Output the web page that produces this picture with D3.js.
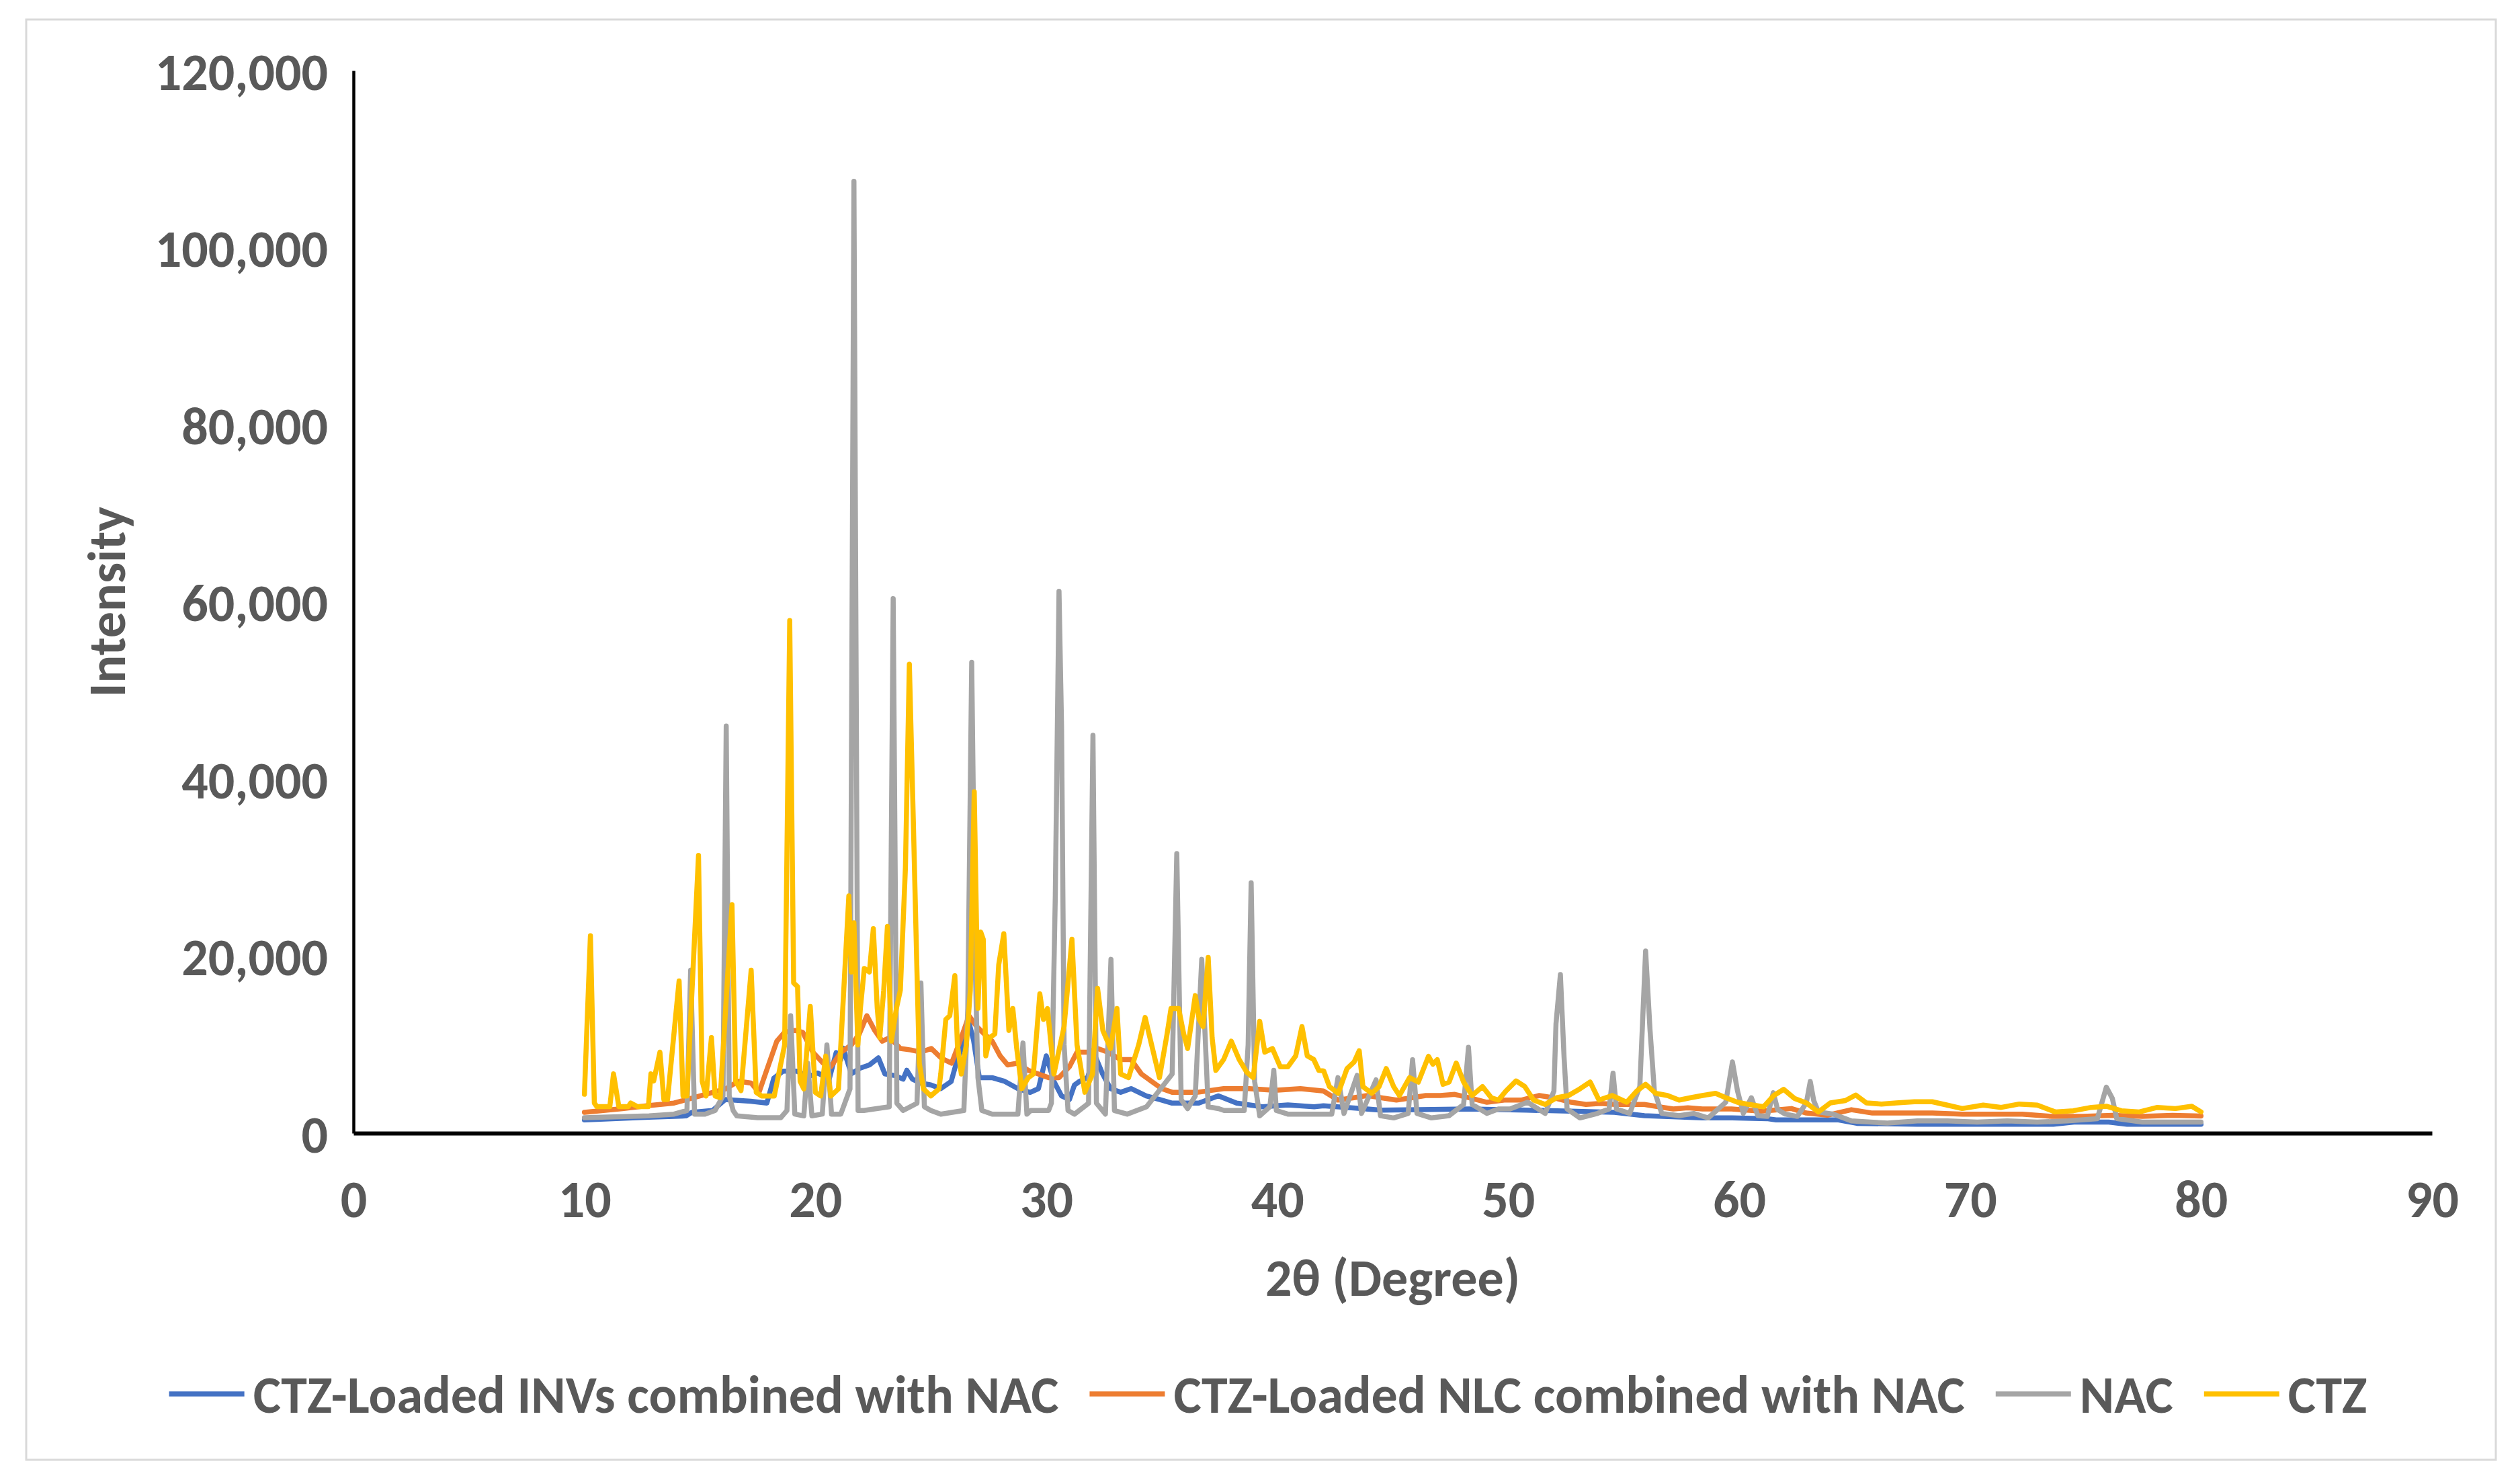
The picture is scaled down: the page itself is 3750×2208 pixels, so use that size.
<!DOCTYPE html>
<html>
<head>
<meta charset="utf-8">
<script src="https://cdn.jsdelivr.net/npm/d3@7"></script>
<style>
  html, body { margin: 0; padding: 0; background: #fff; }
  text { font-family: Carlito, Lato, "Open Sans", sans-serif; font-weight: bold; fill: #595959; }
</style>
</head>
<body>
<svg id="chart" width="3750" height="2208"></svg>
<script>
// series values: [2θ, intensity]
const invsNac = [
  [10.0,1500],[12.8,1800],[14.4,1950],[14.66,2360],[15.55,2560],[16.1,3800],[17.2,3600],[17.9,3400],
  [18.2,6200],[18.6,7000],[19.2,7000],[19.7,6400],[20.1,6800],[20.6,6100],[20.9,9100],[21.1,8300],
  [21.2,9600],[21.56,6700],[21.9,7300],[22.34,7700],[22.73,8500],[23.01,6700],[23.45,6500],[23.8,6100],
  [23.96,7100],[24.2,6100],[24.57,5650],[25.0,5450],[25.43,5030],[25.88,5830],[26.1,7900],[26.45,10500],
  [26.65,12500],[26.85,10500],[27.1,6270],[27.65,6270],[28.2,5850],[28.77,5030],[29.3,4600],[29.66,5030],
  [30.0,8730],[30.33,5850],[30.66,4210],[31.0,3800],[31.22,5440],[31.44,5850],[31.78,6270],[32.11,8730],
  [32.44,6680],[32.78,5030],[33.22,4620],[33.67,5030],[34.33,4210],[34.9,3800],[35.45,3390],[36.6,3390],
  [37.45,4210],[38.24,3390],[39.35,2980],[40.46,3180],[41.6,2980],[42.0,3100],[43.3,2850],[44.5,2600],
  [48.3,2730],[50.8,2600],[52.7,2480],[54.6,2350],[55.9,1970],[57.1,1850],[58.4,1720],[59.7,1720],
  [61.2,1640],[61.6,1500],[63.2,1500],[64.3,1500],[65.1,1110],[67.7,1000],[70.3,1000],[73.6,1000],
  [74.5,1250],[76.0,1250],[76.8,1000],[80.0,1000]
];

const nlcNac = [
  [10.0,2360],[11.65,2770],[12.77,3110],[13.88,3400],[15.0,4200],[16.11,5000],[16.67,5860],[17.22,5650],
  [17.56,4600],[17.89,7100],[18.33,10380],[18.67,11400],[19.11,11600],[19.45,11400],[19.89,9150],[20.34,7900],
  [20.67,7500],[21.12,9150],[21.56,9970],[21.9,11200],[22.23,13260],[22.57,11600],[22.9,10380],[23.23,10800],
  [23.68,9560],[24.12,9400],[24.57,9150],[25.02,9560],[25.46,8460],[25.9,7900],[26.32,10790],[26.65,13260],
  [26.99,12030],[27.32,11200],[27.66,10380],[28.0,8730],[28.33,7700],[28.77,7910],[29.22,7090],[29.66,6680],
  [30.1,6270],[30.55,6270],[31.0,7500],[31.33,9150],[31.78,9150],[32.22,9560],[32.67,9150],[33.22,8320],
  [33.67,8320],[34.12,6680],[34.56,5850],[35.0,5030],[35.45,4620],[36.56,4620],[37.68,5030],[38.79,5030],
  [39.9,4830],[41.0,5030],[42.0,4760],[42.63,3740],[43.27,3990],[43.9,4250],[44.53,3990],[45.16,3740],
  [45.8,3990],[46.43,4250],[47.06,4250],[47.69,4380],[48.32,3990],[49.08,3490],[49.83,3740],[50.59,3740],
  [51.35,4250],[51.98,3990],[52.73,3490],[53.37,3240],[54.0,3360],[54.63,3240],[55.26,3240],[55.89,3240],
  [56.52,2980],[57.15,2730],[57.78,2860],[58.41,2730],[59.67,2730],[60.94,2480],[61.5,2600],[62.26,2780],
  [62.91,2270],[63.82,2020],[64.86,2650],[65.77,2270],[67.07,2270],[68.37,2270],[69.67,2150],[70.97,2150],
  [72.26,2150],[73.56,1890],[74.86,1890],[76.16,2020],[77.46,1890],[78.76,2020],[80.0,1940]
];

const nac = [
  [10.0,1740],[12.8,1950],[13.88,2150],[14.44,2560],[14.6,18400],[14.77,2150],[15.22,2150],[15.66,2560],
  [16.0,4210],[16.14,45970],[16.27,4210],[16.44,2560],[16.6,1950],[17.5,1740],[18.5,1740],[18.77,2560],
  [18.93,13260],[19.11,2150],[19.5,1950],[19.67,7900],[19.85,1950],[20.3,2150],[20.5,9970],[20.7,2150],
  [21.1,2150],[21.5,5000],[21.67,107500],[21.85,2560],[22.1,2560],[23.2,2980],[23.37,60370],[23.53,3380],
  [23.8,2560],[24.4,3380],[24.57,16960],[24.72,2980],[25.0,2560],[25.43,2150],[26.43,2560],[26.6,14080],
  [26.77,53170],[26.93,18200],[27.04,6270],[27.21,2560],[27.66,2150],[28.77,2150],[28.99,10180],[29.16,2150],
  [29.33,2560],[30.1,2560],[30.22,3380],[30.39,26840],[30.55,61190],[30.66,45970],[30.77,9970],[30.94,2560],
  [31.22,2150],[31.83,3380],[32.02,44940],[32.17,3380],[32.56,2150],[32.8,19630],[32.95,2560],[33.5,2150],
  [34.34,2980],[35.45,6680],[35.65,31570],[35.84,3790],[36.12,2770],[36.45,4210],[36.73,19630],[36.86,12000],
  [37.01,2980],[37.46,2770],[37.7,2560],[38.57,2560],[38.74,10000],[38.87,28280],[39.02,5850],[39.24,1950],
  [39.68,2980],[39.85,7090],[39.96,2560],[40.46,2150],[42.36,2150],[42.63,6270],[42.89,2230],[43.46,6530],
  [43.65,2230],[44.28,6020],[44.47,1970],[45.04,1720],[45.67,2230],[45.86,8300],[46.05,2230],[46.68,1720],
  [47.44,1970],[48.07,3240],[48.28,9690],[48.44,3240],[49.08,2230],[49.58,2730],[50.08,2730],[50.84,3490],
  [51.6,2230],[51.98,4760],[52.07,12350],[52.26,17910],[52.42,8550],[52.55,2730],[53.11,1720],[53.87,2230],
  [54.37,2730],[54.54,6780],[54.69,2730],[55.26,2230],[55.7,5260],[55.95,20570],[56.14,11710],[56.33,4760],
  [56.65,2230],[57.4,1970],[58.03,2230],[58.66,1720],[59.42,3490],[59.71,8040],[59.93,4760],[60.18,2230],
  [60.53,4000],[60.81,1970],[61.22,1890],[61.48,4570],[61.67,2650],[62.0,2150],[62.52,1890],[62.91,3420],
  [63.08,5840],[63.23,3680],[63.43,2400],[64.08,2150],[64.86,1380],[66.42,1130],[67.72,1380],[69.02,1380],
  [70.31,1250],[71.61,1380],[72.91,1250],[74.21,1380],[75.51,1640],[75.9,5200],[76.16,3930],[76.35,1640],
  [77.46,1250],[78.76,1250],[80.0,1250]
];

const ctz = [
  [10.0,4400],[10.26,22300],[10.43,3400],[10.54,3000],[11.1,3000],[11.26,6700],[11.49,3000],[11.9,3000],
  [12.0,3400],[12.3,3000],[12.77,3000],[12.88,6700],[13.0,5900],[13.27,9150],[13.44,3800],[13.6,3800],
  [14.1,17200],[14.27,4200],[14.44,4200],[14.94,31360],[15.1,5860],[15.27,4200],[15.5,10800],[15.66,4200],
  [15.88,4000],[16.39,25800],[16.55,5860],[16.78,4800],[17.22,18400],[17.44,4600],[17.67,4200],[18.22,4200],
  [18.67,9970],[18.89,57900],[19.06,16960],[19.23,16550],[19.34,5860],[19.5,5000],[19.78,14300],[20.0,4600],
  [20.23,4200],[20.45,8700],[20.67,4200],[21.0,5000],[21.45,26800],[21.56,18200],[21.67,23750],[21.84,9970],
  [21.95,14100],[22.12,18600],[22.34,18200],[22.51,23100],[22.68,14100],[22.79,10800],[22.96,16150],[23.12,23340],
  [23.29,10400],[23.51,14100],[23.68,16150],[23.9,30000],[24.07,52960],[24.24,35480],[24.4,18200],[24.5,7900],
  [24.68,5000],[25.0,4200],[25.35,5000],[25.43,6680],[25.65,12850],[25.82,13260],[26.04,17780],[26.15,10000],
  [26.32,6680],[26.54,10000],[26.71,16140],[26.88,38560],[27.04,14090],[27.16,22720],[27.27,21900],[27.38,8730],
  [27.55,10790],[27.77,11200],[27.94,19020],[28.16,22520],[28.38,11600],[28.55,14080],[28.72,9560],[28.94,5030],
  [29.22,6270],[29.44,6680],[29.72,15730],[29.88,12850],[30.05,14080],[30.33,6680],[30.77,12030],[31.11,21900],
  [31.33,9970],[31.67,4620],[32.0,6680],[32.22,16350],[32.45,11600],[32.78,9560],[33.06,14080],[33.22,6680],
  [33.56,6270],[34.0,9970],[34.28,13060],[34.56,9970],[34.9,6270],[35.23,11200],[35.4,14080],[35.73,14080],
  [35.95,11200],[36.12,9560],[36.45,15530],[36.62,12850],[36.79,12030],[37.01,19840],[37.18,10790],[37.34,7090],
  [37.68,8320],[38.01,10380],[38.35,8320],[38.68,6880],[38.96,6270],[39.24,12640],[39.46,9150],[39.79,9560],
  [40.13,7500],[40.46,7500],[40.8,8730],[41.07,12030],[41.3,8730],[41.58,8320],[41.8,7090],[42.01,7030],
  [42.26,5260],[42.64,4500],[43.02,7290],[43.33,8050],[43.55,9310],[43.71,5260],[44.09,4500],[44.41,5260],
  [44.72,7290],[45.04,5260],[45.29,4250],[45.73,6270],[46.11,5770],[46.55,8680],[46.74,7790],[46.93,8300],
  [47.18,5520],[47.44,5770],[47.75,7920],[48.07,5770],[48.44,4250],[48.89,5260],[49.27,3990],[49.58,3740],
  [49.9,4760],[50.34,5900],[50.72,5260],[51.1,3740],[51.6,3240],[52.1,4000],[52.61,4250],[53.11,5010],
  [53.55,5770],[53.93,3740],[54.5,4250],[55.13,3490],[55.57,4760],[55.95,5520],[56.39,4500],[56.9,4250],
  [57.4,3740],[57.9,4000],[58.41,4250],[58.98,4500],[59.42,4000],[59.93,3490],[60.43,3240],[61.06,2980],
  [61.5,4250],[61.93,4950],[62.39,3930],[62.91,3420],[63.43,2400],[63.95,3420],[64.6,3680],[65.05,4310],
  [65.51,3420],[66.16,3290],[66.81,3420],[67.59,3550],[68.36,3550],[69.01,3170],[69.66,2780],[70.57,3170],
  [71.35,2910],[72.13,3290],[72.91,3170],[73.69,2400],[74.47,2530],[75.25,2910],[75.9,3040],[76.55,2530],
  [77.33,2400],[78.11,2910],[78.89,2780],[79.6,3040],[80.0,2400]
];

const seriesNames = ["CTZ-Loaded INVs combined with NAC", "CTZ-Loaded NLC combined with NAC", "NAC", "CTZ"];
const seriesColors = ["#4472C4", "#ED7D31", "#A5A5A5", "#FFC000"];
const xTicks = [0, 10, 20, 30, 40, 50, 60, 70, 80, 90];
const yTicks = [0, 20000, 40000, 60000, 80000, 100000, 120000];

const fontSize = 78;

const svg = d3.select("#chart");
const margin = { left: 526, right: 3619, top: 105, bottom: 1686 };

// outer frame
svg.append("rect")
  .attr("x", 39).attr("y", 29)
  .attr("width", 3675).attr("height", 2143)
  .attr("fill", "#fff")
  .attr("stroke", "#d9d9d9")
  .attr("stroke-width", 3);

const x = d3.scaleLinear().domain([0, 90]).range([margin.left, margin.right]);
const y = d3.scaleLinear().domain([0, 120000]).range([margin.bottom, margin.top]);

const line = d3.line()
  .x(d => x(d[0]))
  .y(d => y(d[1]));

const allSeries = [invsNac, nlcNac, nac, ctz];

svg.append("g")
  .selectAll("path")
  .data(allSeries)
  .join("path")
  .attr("d", line)
  .attr("fill", "none")
  .attr("stroke", (d, i) => seriesColors[i])
  .attr("stroke-width", 7.5)
  .attr("stroke-linejoin", "round")
  .attr("stroke-linecap", "round");

// axes
const yAxis = svg.append("g")
  .attr("transform", `translate(${margin.left},0)`)
  .call(d3.axisLeft(y).tickValues(yTicks).tickFormat(d3.format(",")).tickSize(0).tickSizeOuter(0).tickPadding(38));
yAxis.select(".domain").attr("stroke", "#000").attr("stroke-width", 4.5);
yAxis.selectAll("text")
  .attr("font-size", fontSize)
  .attr("font-family", null)
  .attr("fill", null)
  .attr("dy", "0.36em");

const xAxis = svg.append("g")
  .attr("transform", `translate(0,${margin.bottom})`)
  .call(d3.axisBottom(x).tickValues(xTicks).tickSize(0).tickSizeOuter(0).tickPadding(0));
xAxis.select(".domain").attr("stroke", "#000").attr("stroke-width", 6);
xAxis.selectAll("text")
  .attr("font-size", fontSize)
  .attr("font-family", null)
  .attr("fill", null)
  .attr("y", 97)
  .attr("dy", "0.36em");

// axis titles
svg.append("text")
  .attr("x", (margin.left + margin.right) / 2)
  .attr("y", 1900)
  .attr("dy", "0.36em")
  .attr("text-anchor", "middle")
  .attr("font-size", fontSize)
  .text("2θ (Degree)");

svg.append("text")
  .attr("transform", `translate(158,${(margin.top + margin.bottom) / 2}) rotate(-90)`)
  .attr("dy", "0.36em")
  .attr("text-anchor", "middle")
  .attr("font-size", fontSize)
  .text("Intensity");

// legend
const legend = svg.append("g").attr("transform", "translate(0,2074)");
const items = legend.selectAll("g")
  .data(seriesNames)
  .join("g");
items.append("line")
  .attr("x1", 0).attr("x2", 112)
  .attr("stroke", (d, i) => seriesColors[i])
  .attr("stroke-width", 7.5);
items.append("text")
  .attr("x", 125)
  .attr("dy", "0.36em")
  .attr("font-size", fontSize)
  .text(d => d);

let offset = 0;
const starts = [];
items.each(function() {
  const w = 125 + d3.select(this).select("text").node().getComputedTextLength();
  starts.push(offset);
  offset += w + 46;
});
const total = offset - 46;
const left = 1887 - total / 2;
items.attr("transform", (d, i) => `translate(${left + starts[i]},0)`);
</script>
</body>
</html>
